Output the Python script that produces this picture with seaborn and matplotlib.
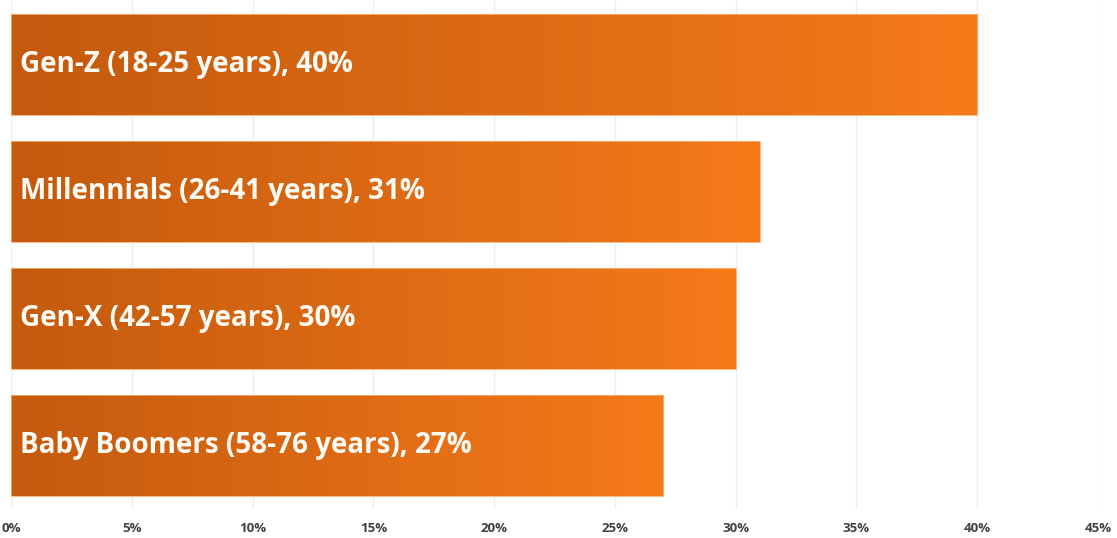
import numpy as np
import matplotlib
matplotlib.use("Agg")
import matplotlib.pyplot as plt
from matplotlib.colors import LinearSegmentedColormap
from matplotlib.ticker import FuncFormatter
import seaborn as sns
import pandas as pd

categories = ["Gen-Z (18-25 years)", "Millennials (26-41 years)", "Gen-X (42-57 years)", "Baby Boomers (58-76 years)"]
values = [40, 31, 30, 27]
tick_values = [0, 5, 10, 15, 20, 25, 30, 35, 40, 45]

df = pd.DataFrame({"cat": categories, "val": values})

sns.set_theme(style="white")
plt.rcParams['font.family'] = ['Open Sans', 'DejaVu Sans']

fig = plt.figure(figsize=(11.17, 5.38), dpi=100)
ax = fig.add_axes([11/1117, 1 - 509/538, (1098-11)/1117, (509-1)/538])

sns.barplot(data=df, y="cat", x="val", orient="h", ax=ax, color="#E06A14", width=0.8,
            edgecolor="#F9B070", linewidth=0.6)

cmap = LinearSegmentedColormap.from_list("g", ["#C45A0E", "#F57A1A"])
grad = np.linspace(0, 1, 256).reshape(1, -1)
for p in ax.patches:
    x0, y0 = p.get_x(), p.get_y()
    w, h = p.get_width(), p.get_height()
    im = ax.imshow(grad, cmap=cmap, extent=[x0, x0 + w, y0 + h, y0], aspect="auto", zorder=2,
                   interpolation="bicubic")
    im.set_clip_path(p)
    p.set_zorder(3)
    p.set_facecolor("none")

for i, (c, v) in enumerate(zip(categories, values)):
    ax.text(0.37, i, f"{c}, {v}%", color="#FFFBF5", fontsize=20, fontweight="bold",
            va="center", ha="left", zorder=5)

ax.set_xlim(0, 45)
ax.set_ylim(3.5, -0.5)
ax.set_xticks(tick_values)
ax.xaxis.set_major_formatter(FuncFormatter(lambda x, _: f"{int(round(x))}%"))
ax.set_yticks([])
ax.set_xlabel("")
ax.set_ylabel("")
ax.tick_params(axis="x", length=0, labelsize=9.5, labelcolor="#404040", pad=9)
for lbl in ax.get_xticklabels():
    lbl.set_fontweight("bold")
ax.grid(axis="x", color="#EDEDED", linewidth=1, zorder=0)
ax.set_axisbelow(True)
for s in ax.spines.values():
    s.set_visible(False)

fig.savefig("out.png", dpi=100, facecolor="white")
